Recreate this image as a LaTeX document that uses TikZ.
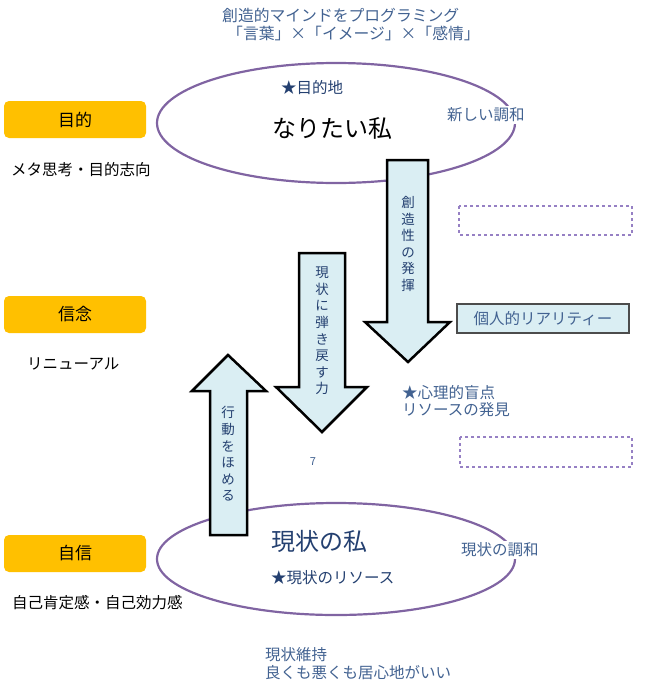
\documentclass[tikz,border=0pt]{standalone}
\usepackage{fontspec}
\setmainfont{Noto Sans CJK JP}
\usepackage{tikz}
\usetikzlibrary{positioning}
\definecolor{mindpurple}{RGB}{128,100,162}
\definecolor{framepurple}{RGB}{150,128,196}
\definecolor{goalorange}{RGB}{255,192,0}
\definecolor{arrowfill}{RGB}{218,238,243}
\definecolor{darkblue}{RGB}{36,64,112}
\definecolor{midblue}{RGB}{66,98,145}
\tikzset{
    mind color/.style={color=mindpurple},
    mind ellipse/.style={mind color,line width=2.2pt},
    goal box/.style={rectangle,rounded corners=5pt,fill=goalorange,minimum width=142pt,minimum height=37pt,inner sep=0pt,font=\fontsize{17}{20}\selectfont},
    side note/.style={anchor=west,inner sep=0pt,font=\fontsize{15.5}{18}\selectfont},
    blue note/.style={side note,text=midblue},
    title note/.style={blue note,font=\fontsize{15.8}{18}\selectfont},
    harmony note/.style={blue note,fill=white,inner sep=2pt},
    big self/.style={anchor=west,inner sep=0pt,font=\fontsize{24}{26}\selectfont},
    block arrow/.style={draw=black,line width=2.5pt,fill=arrowfill,line join=miter},
    arrow text/.style={align=center,inner sep=0pt,text=darkblue,font=\fontsize{13.5}{16.6}\selectfont},
    dashed frame/.style={draw=framepurple,dashed,line width=1.2pt},
    reality box/.style={draw=black!70,line width=1.2pt,fill=arrowfill,minimum width=172pt,minimum height=29pt,inner sep=0pt,text=midblue,font=\fontsize{15.5}{18}\selectfont},
}

\begin{document}
\begin{tikzpicture}[x=1pt,y=-1pt]
        \useasboundingbox (0,0) rectangle (659,691);
        % title
        \node[title note] (title1) at (222,15) {創造的マインドをプログラミング};
        \node[title note] (title2) at (227,33) {「言葉」×「イメージ」×「感情」};
        % left column
        \node[goal box] (purpose) at (75,119.5) {目的};
        \node[side note] (meta) at (11,170) {メタ思考・目的志向};
        \node[goal box] (belief) at (75,314.5) {信念};
        \node[side note] (renew) at (27,364) {リニューアル};
        \node[goal box] (confidence) at (75,553.5) {自信};
        \node[side note] (esteem) at (12,603) {自己肯定感・自己効力感};
        % the two selves
        \draw[mind ellipse] (336,123) ellipse [x radius=179, y radius=60];
        \draw[mind ellipse] (336,559) ellipse [x radius=179, y radius=56];
        \node[side note,text=darkblue] (dest) at (281,88) {★目的地};
        \node[big self] (ideal) at (272,128) {なりたい私};
        \node[harmony note] (newharmony) at (445,115) {新しい調和};
        \node[big self,text=darkblue] (current) at (271,541) {現状の私};
        \node[side note,text=darkblue] (resource) at (271,578) {★現状のリソース};
        \node[harmony note] (curharmony) at (459,550) {現状の調和};
        % block arrows
        \draw[block arrow] (387,160) -- (428,160) -- (428,322) -- (450,322) -- (408,362) -- (365,322) -- (387,322) -- cycle;
        \node[arrow text] (create) at (408,244) {創\\造\\性\\の\\発\\揮};
        \draw[block arrow] (299,253) -- (345,253) -- (345,387) -- (367,387) -- (322,432) -- (276,387) -- (299,387) -- cycle;
        \node[arrow text] (pullback) at (322,331) {現\\状\\に\\弾\\き\\戻\\す\\力};
        \draw[block arrow] (210,535) -- (247,535) -- (247,391) -- (266,391) -- (228,355) -- (192,391) -- (210,391) -- cycle;
        \node[arrow text] (praise) at (228,454) {行\\動\\を\\ほ\\め\\る};
        \node[text=midblue,inner sep=0pt,font=\fontsize{11}{12}\selectfont] (tick) at (313,462) {7};
        % right column
        \draw[dashed frame] (459,206) rectangle (632,235);
        \node[reality box] (reality) at (543,318.5) {個人的リアリティー};
        \node[blue note] (blind1) at (402,393) {★心理的盲点};
        \node[blue note] (blind2) at (402,410) {リソースの発見};
        \draw[dashed frame] (460,437) rectangle (632,467);
        % bottom
        \node[blue note] (keep1) at (265,655) {現状維持};
        \node[blue note] (keep2) at (265,673) {良くも悪くも居心地がいい};
    \end{tikzpicture}
\end{document}
